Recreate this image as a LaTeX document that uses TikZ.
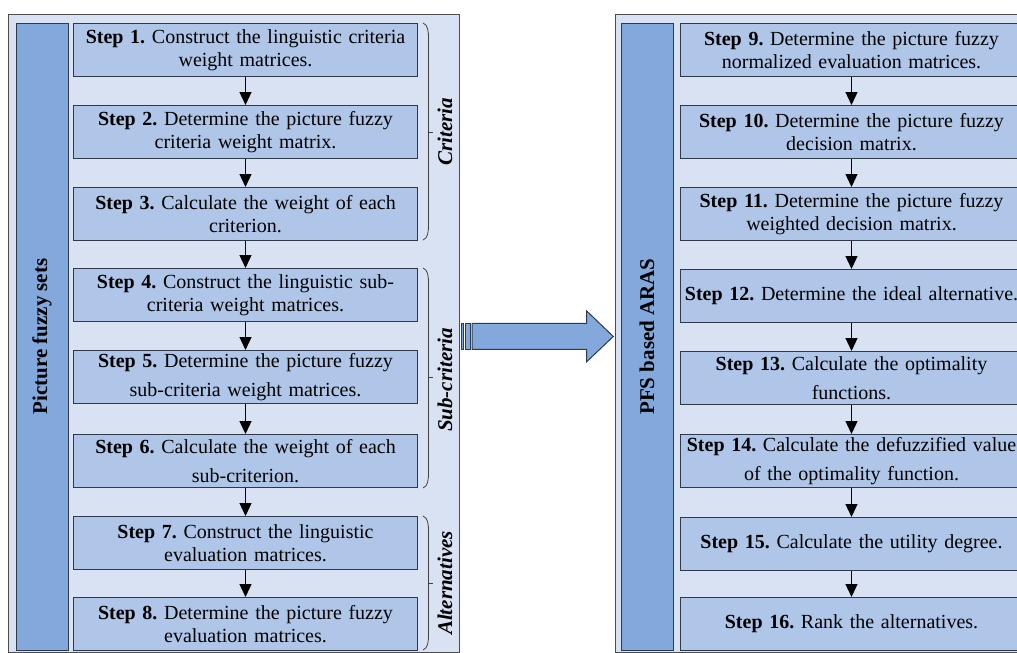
\documentclass[tikz,border=0pt]{standalone}
\usepackage{fontspec}
\setmainfont{Liberation Serif}
\usetikzlibrary{arrows.meta}
\frenchspacing
\definecolor{panelbg}{HTML}{D9E2F3}
\definecolor{boxfill}{HTML}{AFC6E8}
\definecolor{sidefill}{HTML}{82A8DC}
\definecolor{edgecol}{HTML}{2E3A4A}
\tikzset{
  panel/.style={draw=black!70, fill=panelbg, line width=0.8pt},
  sidebar/.style={draw=edgecol, fill=sidefill, line width=1pt, rotate=90, minimum width=627pt, minimum height=52pt, inner sep=0pt, font=\fontsize{21}{24}\selectfont\bfseries},
  stepbox/.style={draw=edgecol, fill=boxfill, line width=1pt, minimum width=344pt, minimum height=53pt, text width=340pt, align=center, inner sep=0pt, anchor=north west, font=\fontsize{20}{23}\selectfont\frenchspacing},
  stepwide/.style={stepbox, font=\fontsize{20}{29}\selectfont\frenchspacing},
  flow/.style={-{Triangle[width=12pt,length=13pt]}, line width=1.3pt, black},
  brace/.style={draw=black!75, line width=0.8pt},
  grouplabel/.style={rotate=90, font=\fontsize{21}{24}\selectfont\bfseries\itshape},
  bigarrow/.style={draw=edgecol, fill=sidefill, line width=1pt}
}
\begin{document}
\begin{tikzpicture}[x=1pt,y=-1pt]
\useasboundingbox (0,0) rectangle (1017,653);
\clip (0,0) rectangle (1017,653);
\fill[white] (0,0) rectangle (1017,653);
% panels
\draw[panel] (8,14) rectangle (459,652.5);
\draw[panel] (615,14) rectangle (1035,652.5);
% sidebars
\node[sidebar] (sideL) at (42,336.5) {Picture fuzzy sets};
\node[sidebar] (sideR) at (647,336.5) {PFS based ARAS};
% left steps
\node[stepbox] (s1) at (73,23) {\textbf{Step 1.} Construct the linguistic criteria\\weight matrices.};
\node[stepbox] (s2) at (73,105) {\textbf{Step 2.} Determine the picture fuzzy\\criteria weight matrix.};
\node[stepbox] (s3) at (73,187) {\textbf{Step 3.} Calculate the weight of each\\criterion.};
\node[stepbox] (s4) at (73,268) {\textbf{Step 4.} Construct the linguistic sub-\\criteria weight matrices.};
\node[stepwide] (s5) at (73,350) {\textbf{Step 5.} Determine the picture fuzzy\\sub-criteria weight matrices.};
\node[stepwide] (s6) at (73,434) {\textbf{Step 6.} Calculate the weight of each\\sub-criterion.};
\node[stepbox] (s7) at (73,516) {\textbf{Step 7.} Construct the linguistic\\evaluation matrices.};
\node[stepbox] (s8) at (73,597) {\textbf{Step 8.} Determine the picture fuzzy\\evaluation matrices.};
% right steps
\node[stepbox, minimum width=342pt] (s9) at (680,23) {\textbf{Step 9.} Determine the picture fuzzy\\normalized evaluation matrices.};
\node[stepbox, minimum width=342pt] (s10) at (680,105) {\textbf{Step 10.} Determine the picture fuzzy\\decision matrix.};
\node[stepbox, minimum width=342pt] (s11) at (680,187) {\textbf{Step 11.} Determine the picture fuzzy\\weighted decision matrix.};
\node[stepbox, minimum width=342pt] (s12) at (680,269) {\textbf{Step 12.} Determine the ideal alternative.};
\node[stepwide, minimum width=342pt] (s13) at (680,351) {\textbf{Step 13.} Calculate the optimality\\functions.};
\node[stepwide, minimum width=342pt] (s14) at (680,434) {\textbf{Step 14.} Calculate the defuzzified value\\of the optimality function.};
\node[stepbox, minimum width=342pt] (s15) at (680,517) {\textbf{Step 15.} Calculate the utility degree.};
\node[stepbox, minimum width=342pt] (s16) at (680,597) {\textbf{Step 16.} Rank the alternatives.};
% flow arrows
\foreach \a/\b in {s1/s2,s2/s3,s3/s4,s4/s5,s5/s6,s6/s7,s7/s8,s9/s10,s10/s11,s11/s12,s12/s13,s13/s14,s14/s15,s15/s16}
  \draw[flow] (\a.south) -- (\b.north);
% braces
\foreach \t/\m/\b in {23/132/240, 268/377/488, 516/583/650}{
  \draw[brace] (423,\t) .. controls (428,\t+2) and (428.5,\t+8) .. (428.5,\t+16) -- (428.5,\b-16) .. controls (428.5,\b-8) and (428,\b-2) .. (423,\b);
  \draw[brace] (428.5,\m) -- (433,\m);
}
\node[grouplabel] (gcrit) at (445,132) {Criteria};
\node[grouplabel] (gsub) at (445,380) {Sub-criteria};
\node[grouplabel] (galt) at (445,583) {Alternatives};
% big arrow between panels
\draw[bigarrow] (461,323.3) rectangle (463.5,349.3);
\draw[bigarrow] (465.3,323.3) rectangle (470.7,349.3);
\draw[bigarrow] (472,323.3) -- (586.7,323.3) -- (586.7,311) -- (613.3,336.5) -- (586.7,361.7) -- (586.7,349.3) -- (472,349.3) -- cycle;
\end{tikzpicture}
\end{document}
